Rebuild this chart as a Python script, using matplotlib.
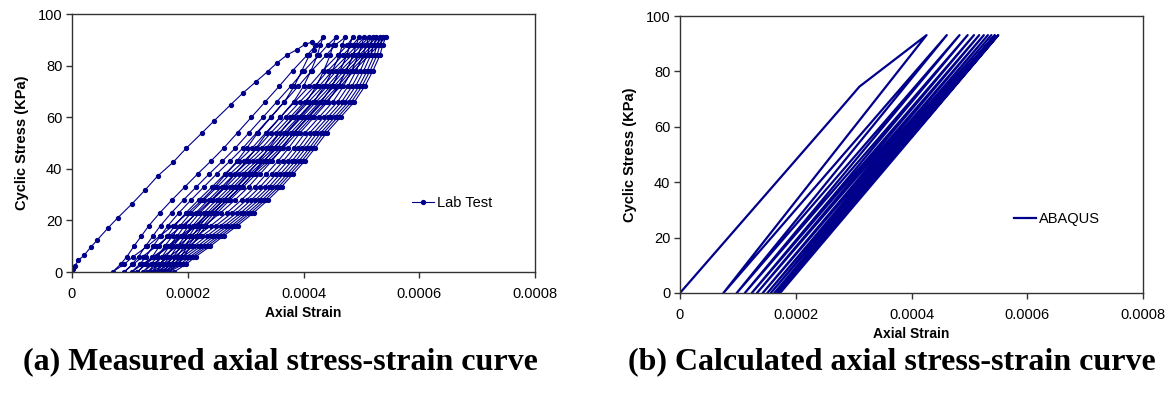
import matplotlib
matplotlib.use("Agg")
import matplotlib.pyplot as plt

NAVY = "#00008b"

# ---- (a) lab test: strains in microstrain, stresses in kPa ----
VIRGIN_STRESS = [0, 1, 2.5, 4.5, 6.5, 9.5, 12.5, 17, 21, 26.5, 31.7, 37.2, 42.6,
                 47.9, 54, 58.7, 64.8, 69.3, 73.8, 77.7, 81, 84.2, 86.1, 88.3, 89.1]
VIRGIN_STRAIN = [0, 1, 5, 11, 21, 32, 44, 62, 79, 104, 126, 148, 175,
                 197, 225, 246, 274, 295, 318, 338, 354, 372, 388, 403, 415]

FIRST_UNLOAD_STRESS = [89, 86, 84, 78, 72, 66, 60, 54, 48, 43, 38, 33, 28, 23, 18, 14, 10, 6, 3, 0]
FIRST_UNLOAD_STRAIN = [415, 419, 410, 397, 384, 367, 344, 321, 302, 285, 266, 247, 225, 201,
                       175, 152, 130, 106, 90, 70]

# stress levels shared by the cyclic branches (ascending)
CYCLE_STRESS = [0, 3, 6, 10, 14, 18, 23, 28, 33, 38, 43, 48, 54, 60, 66, 72, 78, 84, 88, 91]

RELOAD = [
    [70, 84, 95, 107, 120, 133, 152, 173, 195, 217, 240, 262, 286, 310, 334, 358, 381, 406, 422, 434],
    [90, 104, 115, 127, 140, 153, 172, 193, 215, 237, 260, 282, 306, 330, 354, 378, 401, 426, 442, 456],
    [103, 117, 128, 140, 153, 166, 185, 206, 228, 250, 273, 295, 319, 343, 367, 391, 414, 439, 455, 472],
    [113, 127, 139, 151, 165, 178, 197, 219, 242, 264, 288, 311, 335, 360, 385, 410, 433, 459, 476, 485],
    [122, 136, 148, 160, 174, 187, 206, 228, 251, 273, 297, 320, 344, 369, 394, 419, 442, 468, 485, 496],
    [130, 144, 156, 168, 182, 195, 214, 236, 259, 281, 305, 328, 352, 377, 402, 427, 450, 476, 493, 505],
    [137, 151, 163, 175, 189, 202, 221, 243, 266, 288, 312, 335, 359, 384, 409, 434, 457, 483, 500, 513],
    [144, 158, 170, 182, 196, 209, 228, 250, 273, 295, 319, 342, 366, 391, 416, 441, 464, 490, 507, 520],
    [150, 164, 176, 188, 202, 215, 234, 256, 279, 301, 325, 348, 372, 397, 422, 447, 470, 496, 513, 526],
    [156, 170, 182, 194, 208, 221, 240, 262, 285, 307, 331, 354, 378, 403, 428, 453, 476, 502, 519, 532],
    [162, 176, 188, 200, 214, 227, 246, 268, 291, 313, 337, 360, 384, 409, 434, 459, 482, 508, 525, 537],
    [167, 181, 193, 205, 219, 232, 251, 273, 296, 318, 342, 365, 389, 414, 439, 464, 487, 513, 530, 542],
]
UNLOAD = [
    [90, 106, 122, 146, 168, 191, 217, 241, 263, 282, 301, 318, 337, 360, 383, 400, 413, 424, 429, 434],
    [103, 122, 141, 166, 188, 212, 238, 262, 284, 304, 323, 340, 359, 382, 405, 422, 435, 446, 451, 456],
    [113, 127, 144, 169, 192, 216, 244, 269, 292, 312, 332, 350, 370, 394, 418, 436, 450, 462, 467, 472],
    [122, 140, 157, 182, 205, 229, 257, 282, 305, 325, 345, 363, 383, 407, 431, 449, 463, 475, 480, 485],
    [130, 151, 168, 193, 216, 240, 268, 293, 316, 336, 356, 374, 394, 418, 442, 460, 474, 486, 491, 496],
    [137, 160, 177, 202, 225, 249, 277, 302, 325, 345, 365, 383, 403, 427, 451, 469, 483, 495, 500, 505],
    [144, 168, 185, 210, 233, 257, 285, 310, 333, 353, 373, 391, 411, 435, 459, 477, 491, 503, 508, 513],
    [150, 175, 192, 217, 240, 264, 292, 317, 340, 360, 380, 398, 418, 442, 466, 484, 498, 510, 515, 520],
    [156, 181, 198, 223, 246, 270, 298, 323, 346, 366, 386, 404, 424, 448, 472, 490, 504, 516, 521, 526],
    [162, 187, 204, 229, 252, 276, 304, 329, 352, 372, 392, 410, 430, 454, 478, 496, 510, 522, 527, 532],
    [167, 192, 209, 234, 257, 281, 309, 334, 357, 377, 397, 415, 435, 459, 483, 501, 515, 527, 532, 537],
    [176, 197, 214, 239, 262, 286, 314, 339, 362, 382, 402, 420, 440, 464, 488, 506, 520, 532, 537, 542],
]

# ---- (b) ABAQUS ----
FE_LOAD_STRAIN = [0, 275, 310, 426]
FE_LOAD_STRESS = [0, 66, 74.5, 93.1]
FE_PEAK_STRESS = 93.1
FE_PEAK_STRAIN = [426, 461, 483, 497, 508, 517, 525, 532, 538, 544, 550]
FE_RESID_STRAIN = [75, 98, 112, 124, 133, 143, 151, 157, 163, 168, 173]

XTICKS = [0, 0.0002, 0.0004, 0.0006, 0.0008]
XTICKLABELS = ["0", "0.0002", "0.0004", "0.0006", "0.0008"]
YTICKS = [0, 20, 40, 60, 80, 100]

plt.rcParams["font.family"] = ["Liberation Sans", "DejaVu Sans"]

fig = plt.figure(figsize=(11.7, 3.98), dpi=100)
ax_a = fig.add_axes([72 / 1170, 1 - 272 / 398, 463 / 1170, 258 / 398])
ax_b = fig.add_axes([680 / 1170, 1 - 293 / 398, 463 / 1170, 277 / 398])

# build the lab path: virgin loading, first unloading, then reload/unload cycles
xs = list(VIRGIN_STRAIN) + FIRST_UNLOAD_STRAIN[1:]
ys = list(VIRGIN_STRESS) + FIRST_UNLOAD_STRESS[1:]
for up, down in zip(RELOAD, UNLOAD):
    xs += up[1:] + down[::-1][1:]
    ys += CYCLE_STRESS[1:] + CYCLE_STRESS[::-1][1:]
ax_a.plot([v * 1e-6 for v in xs], ys, color=NAVY, lw=0.8, marker="o", ms=2.8,
          label="Lab Test")

fx = list(FE_LOAD_STRAIN)
fy = list(FE_LOAD_STRESS)
for i, r in enumerate(FE_RESID_STRAIN):
    fx.append(r)
    fy.append(0)
    if i + 1 < len(FE_PEAK_STRAIN):
        fx.append(FE_PEAK_STRAIN[i + 1])
        fy.append(FE_PEAK_STRESS)
ax_b.plot([v * 1e-6 for v in fx], fy, color=NAVY, lw=1.6, label="ABAQUS")

for ax, xpad in ((ax_a, 4), (ax_b, 4)):
    ax.set_xlim(0, 0.0008)
    ax.set_ylim(0, 100)
    ax.set_xticks(XTICKS)
    ax.set_xticklabels(XTICKLABELS)
    ax.set_yticks(YTICKS)
    ax.tick_params(direction="out", length=4, width=1, labelsize=10.5,
                   color="#333333")
    ax.tick_params(axis="x", pad=6.5)
    ax.tick_params(axis="y", pad=3)
    for sp in ax.spines.values():
        sp.set_color("#333333")
        sp.set_linewidth(1.0)
    ax.set_xlabel("Axial Strain", fontsize=10, fontweight="bold", labelpad=xpad)
    ax.set_ylabel("Cyclic Stress (KPa)", fontsize=10.5, fontweight="bold", labelpad=6)

ax_a.legend(loc="center left", bbox_to_anchor=(0.735, 0.266), frameon=False,
            fontsize=10.5, handlelength=1.5, handletextpad=0.2, borderpad=0,
            borderaxespad=0)
ax_b.legend(loc="center left", bbox_to_anchor=(0.722, 0.266), frameon=False,
            fontsize=10.5, handlelength=1.5, handletextpad=0.2, borderpad=0,
            borderaxespad=0)

cap = dict(family=["Liberation Serif", "DejaVu Serif"], fontweight="bold",
           fontsize=23, ha="center", va="center")
fig.text(280 / 1170, 1 - 362 / 398, "(a) Measured axial stress-strain curve", **cap)
fig.text(892 / 1170, 1 - 362 / 398, "(b) Calculated axial stress-strain curve", **cap)

fig.savefig("out.png", dpi=100)
